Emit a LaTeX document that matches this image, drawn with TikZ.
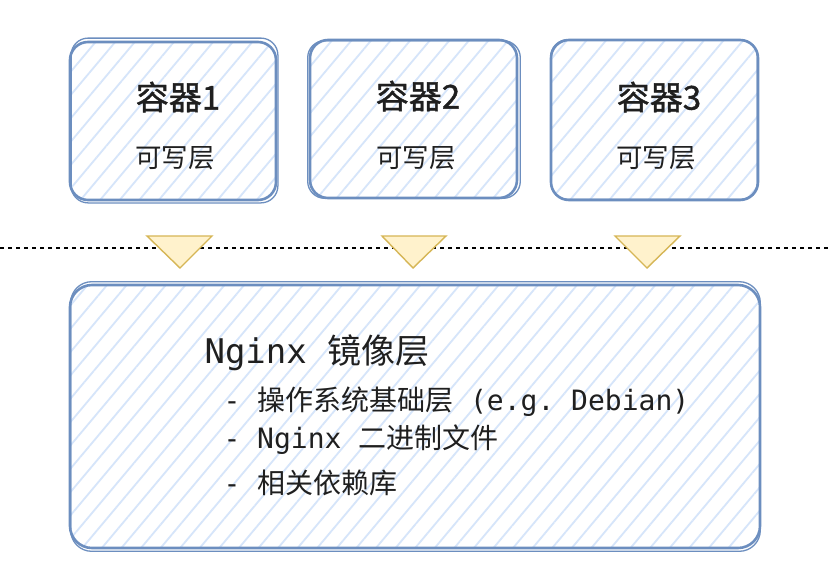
\documentclass[tikz,border=0pt]{standalone}
\usepackage{fontspec}
\setmonofont{DejaVu Sans Mono}
\newfontfamily\cjk{Noto Sans CJK SC}
\newfontfamily\cjkm[FakeBold=1.2]{Noto Sans CJK SC}
\usetikzlibrary{patterns.meta}
\definecolor{boxblue}{HTML}{6C8EBF}
\definecolor{hatch}{HTML}{D6E5FA}
\definecolor{trifill}{HTML}{FFF2CC}
\definecolor{tridraw}{HTML}{D6B656}
\definecolor{ink}{HTML}{1F1F1F}
\tikzset{
  hatchbox/.style={draw=boxblue, line width=2.6pt, rounded corners=18pt,
    pattern={Lines[angle=50,distance=15pt,line width=1.8pt]}, pattern color=hatch,
    inner sep=0pt},
  sketch/.style={draw=boxblue, line width=1.3pt, rounded corners=17pt},
  tri/.style={draw=tridraw, fill=trifill, line width=1.4pt, line join=miter},
  title/.style={font=\cjkm\fontsize{33}{38}\selectfont, text=ink},
  sub/.style={font=\cjk\fontsize{26.5}{32}\selectfont, text=ink},
  mono/.style={anchor=west, text=ink},
}
\begin{document}
\begin{tikzpicture}[x=1pt,y=-1pt]
\useasboundingbox (0,0) rectangle (830,576);
\fill[white] (0,0) rectangle (830,576);

% container boxes
\node[hatchbox, minimum width=206pt, minimum height=158pt] (c1) at (173,121) {};
\node[hatchbox, minimum width=207pt, minimum height=158pt] (c2) at (413.5,119) {};
\node[hatchbox, minimum width=207pt, minimum height=160pt] (c3) at (654.5,120) {};
\node[hatchbox, minimum width=690pt, minimum height=263pt, rounded corners=22pt] (img) at (415,416.5) {};

% sketchy second strokes
\draw[sketch] ([shift={(2pt,-2pt)}]c1.south west) rectangle ([shift={(1pt,3pt)}]c1.north east);
\draw[sketch] ([shift={(-1pt,1pt)}]c2.south west) rectangle ([shift={(2pt,-2pt)}]c2.north east);
\draw[sketch] ([shift={(1pt,2pt)}]c3.south west) rectangle ([shift={(-2pt,-1pt)}]c3.north east);
\draw[sketch, rounded corners=21pt] ([shift={(2pt,-2pt)}]img.south west) rectangle ([shift={(-1pt,2pt)}]img.north east);

% labels
\node[title] (c1t) at (178,97) {容器1};
\node[sub] (c1s) at (175,158) {可写层};
\node[title] (c2t) at (418,96) {容器2};
\node[sub] (c2s) at (416,158) {可写层};
\node[title] (c3t) at (659,97) {容器3};
\node[sub] (c3s) at (656,158) {可写层};

% dashed separator
\coordinate (dl) at (0,248);
\coordinate (dr) at (830,248);
\draw[black, line width=1.2pt, dash pattern=on 4pt off 4pt] (dl) -- (dr);

% triangles
\draw[tri] (147,236) -- (212,236) -- (180,268) -- cycle;
\draw[tri] (382,236) -- (446,236) -- (413,268) -- cycle;
\draw[tri] (615,236) -- (680,236) -- (647,268) -- cycle;

% image layer text
\node[mono] (it) at (201,353) {\ttfamily\fontsize{34}{40}\selectfont Nginx {\cjk 镜像层}};
\node[mono] (l1) at (220,402) {\ttfamily\fontsize{28}{34}\selectfont - {\cjk 操作系统基础层} (e.g. Debian)};
\node[mono] (l2) at (220,440) {\ttfamily\fontsize{28}{34}\selectfont - Nginx {\cjk 二进制文件}};
\node[mono] (l3) at (220,483) {\ttfamily\fontsize{28}{34}\selectfont - {\cjk 相关依赖库}};
\end{tikzpicture}
\end{document}
